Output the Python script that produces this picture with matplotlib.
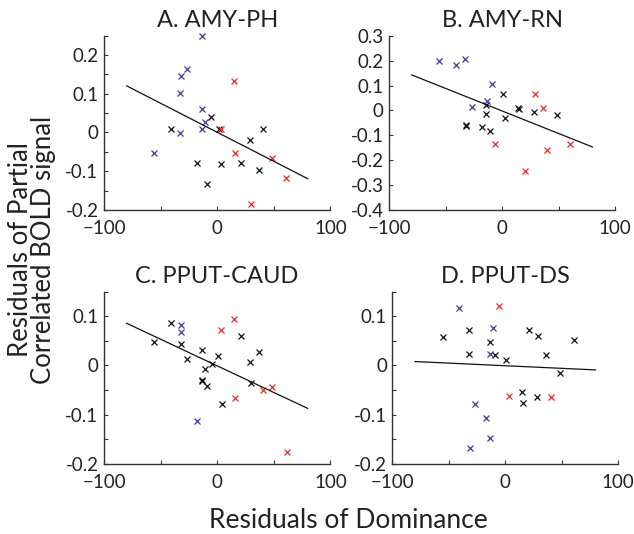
import matplotlib
matplotlib.use("Agg")
import matplotlib.pyplot as plt
from matplotlib.ticker import MultipleLocator

plt.rcParams.update({
    "font.family": ["Lato", "DejaVu Sans"],
    "font.size": 14,
    "axes.linewidth": 1.0,
    "axes.edgecolor": "#333333",
    "xtick.direction": "in",
    "ytick.direction": "in",
    "xtick.color": "#333333",
    "ytick.color": "#333333",
    "xtick.labelcolor": "#222222",
    "ytick.labelcolor": "#222222",
})

blue, red, black = "#3a3aa8", "#ff2424", "#111111"

titles = ["A. AMY-PH", "B. AMY-RN", "C. PPUT-CAUD", "D. PPUT-DS"]

# panel A
a_blue_x = [-13.0, -26.9, -32.0, -32.5, -13.3, -10.7, -13.6, -32.8, -55.9]
a_blue_y = [0.249, 0.164, 0.145, 0.103, 0.060, 0.026, 0.010, -0.001, -0.054]
a_red_x = [15.1, 3.0, 15.7, 48.8, 61.2, 29.9]
a_red_y = [0.132, 0.010, -0.054, -0.065, -0.118, -0.185]
a_black_x = [-5.0, -40.8, 1.2, 40.5, 29.0, -17.5, 3.8, 20.7, 37.0, -9.2]
a_black_y = [0.039, 0.008, 0.010, 0.010, -0.020, -0.078, -0.082, -0.078, -0.096, -0.134]

# panel B
b_blue_x = [-55.9, -40.6, -32.6, -9.1, -13.8, -27.1]
b_blue_y = [0.198, 0.182, 0.206, 0.106, 0.036, 0.012]
b_red_x = [29.1, 35.9, -5.9, 40.0, 60.3, 20.0]
b_red_y = [0.066, 0.011, -0.137, -0.160, -0.137, -0.245]
b_black_x = [0.6, -14.1, -14.1, 2.4, -32.1, -32.0, -17.6, -10.9, 14.4, 15.3, 28.2, 48.2]
b_black_y = [0.066, 0.020, -0.015, -0.031, -0.061, -0.058, -0.065, -0.082, 0.009, 0.005, -0.007, -0.019]

# panel C
c_blue_x = [-32.2, -32.2, -17.5]
c_blue_y = [0.082, 0.068, -0.112]
c_red_x = [15.1, 3.3, 16.0, 40.5, 48.8, 61.5]
c_red_y = [0.095, 0.072, -0.066, -0.050, -0.043, -0.175]
c_black_x = [-40.8, -55.9, -31.7, -26.9, -13.3, -10.7, -4.7, 0.6, -13.6, -13.0, -8.9, 4.1, 21.0, 29.0, 37.0, 30.2]
c_black_y = [0.086, 0.048, 0.043, 0.013, 0.031, -0.007, 0.003, 0.019, -0.030, -0.032, -0.042, -0.078, 0.059, 0.007, 0.028, -0.036]

# panel D
d_blue_x = [-40.6, -10.6, -13.8, -26.8, -17.4, -13.5, -31.5]
d_blue_y = [0.116, 0.076, 0.023, -0.079, -0.107, -0.147, -0.167]
d_red_x = [-5.3, 2.9, 40.3]
d_red_y = [0.121, -0.061, -0.063]
d_black_x = [-55.6, -32.6, -13.2, -32.4, -9.4, 0.6, 20.6, 29.4, 36.5, 60.6, 48.2, 14.7, 15.6, 28.5]
d_black_y = [0.058, 0.071, 0.047, 0.023, 0.022, 0.012, 0.072, 0.060, 0.021, 0.052, -0.015, -0.053, -0.076, -0.064]

# regression lines drawn over x = -80..80
fit_x = [-80, 80]
fit_slope = [-0.00150, -0.00181, -0.00108, -0.000106]
fit_intercept = [0.0006, -0.0023, -0.0007, -0.0005]

ylims = [(-0.2, 0.25), (-0.4, 0.3), (-0.2, 0.15), (-0.2, 0.15)]
ystep = [0.1, 0.1, 0.1, 0.1]
yminor = [0.05, None, 0.05, 0.05]

panels = [
    (a_blue_x, a_blue_y, a_red_x, a_red_y, a_black_x, a_black_y),
    (b_blue_x, b_blue_y, b_red_x, b_red_y, b_black_x, b_black_y),
    (c_blue_x, c_blue_y, c_red_x, c_red_y, c_black_x, c_black_y),
    (d_blue_x, d_blue_y, d_red_x, d_red_y, d_black_x, d_black_y),
]

# axes rectangles (left, bottom, width, height) in figure fractions
rects = [
    [0.164, 0.607, 0.357, 0.326],
    [0.614, 0.607, 0.356, 0.326],
    [0.164, 0.131, 0.357, 0.323],
    [0.619, 0.131, 0.356, 0.323],
]

fig = plt.figure(figsize=(6.34, 5.34), dpi=100)

for i, (bx, by, rx, ry, kx, ky) in enumerate(panels):
    ax = fig.add_axes(rects[i])
    ms, mew = 5, 0.9
    ax.plot(kx, ky, "x", color=black, ms=ms, mew=mew, clip_on=False)
    ax.plot(bx, by, "x", color=blue, ms=ms, mew=mew, clip_on=False)
    ax.plot(rx, ry, "x", color=red, ms=ms, mew=mew, clip_on=False)
    fy = [fit_intercept[i] + fit_slope[i] * x for x in fit_x]
    ax.plot(fit_x, fy, "-", color=black, lw=0.9)

    ax.set_xlim(-100, 100)
    ax.set_ylim(*ylims[i])
    ax.xaxis.set_major_locator(MultipleLocator(100))
    ax.xaxis.set_minor_locator(MultipleLocator(50))
    ax.yaxis.set_major_locator(MultipleLocator(ystep[i]))
    if yminor[i]:
        ax.yaxis.set_minor_locator(MultipleLocator(yminor[i]))
    ax.yaxis.set_major_formatter(plt.FuncFormatter(lambda v, p: f"{v:g}" if abs(v) > 1e-9 else "0"))
    ax.tick_params(which="major", length=3, width=0.8, labelsize=13.5)
    ax.tick_params(axis="x", which="major", pad=7)
    ax.tick_params(axis="y", which="major", pad=4)
    ax.tick_params(which="minor", length=3, width=0.8)
    ax.spines["top"].set_visible(False)
    ax.spines["right"].set_visible(False)
    ax.set_title(titles[i], fontsize=17, pad=6, color="#222222")

fig.text(0.549, 0.012, "Residuals of Dominance", ha="center", va="baseline",
         fontsize=19, color="#222222")
fig.text(0.051, 0.532, "Residuals of Partial\nCorrelated BOLD signal", ha="center",
         va="center", rotation=90, fontsize=18.5, color="#222222", linespacing=0.9)

fig.savefig("out.png", dpi=100)
